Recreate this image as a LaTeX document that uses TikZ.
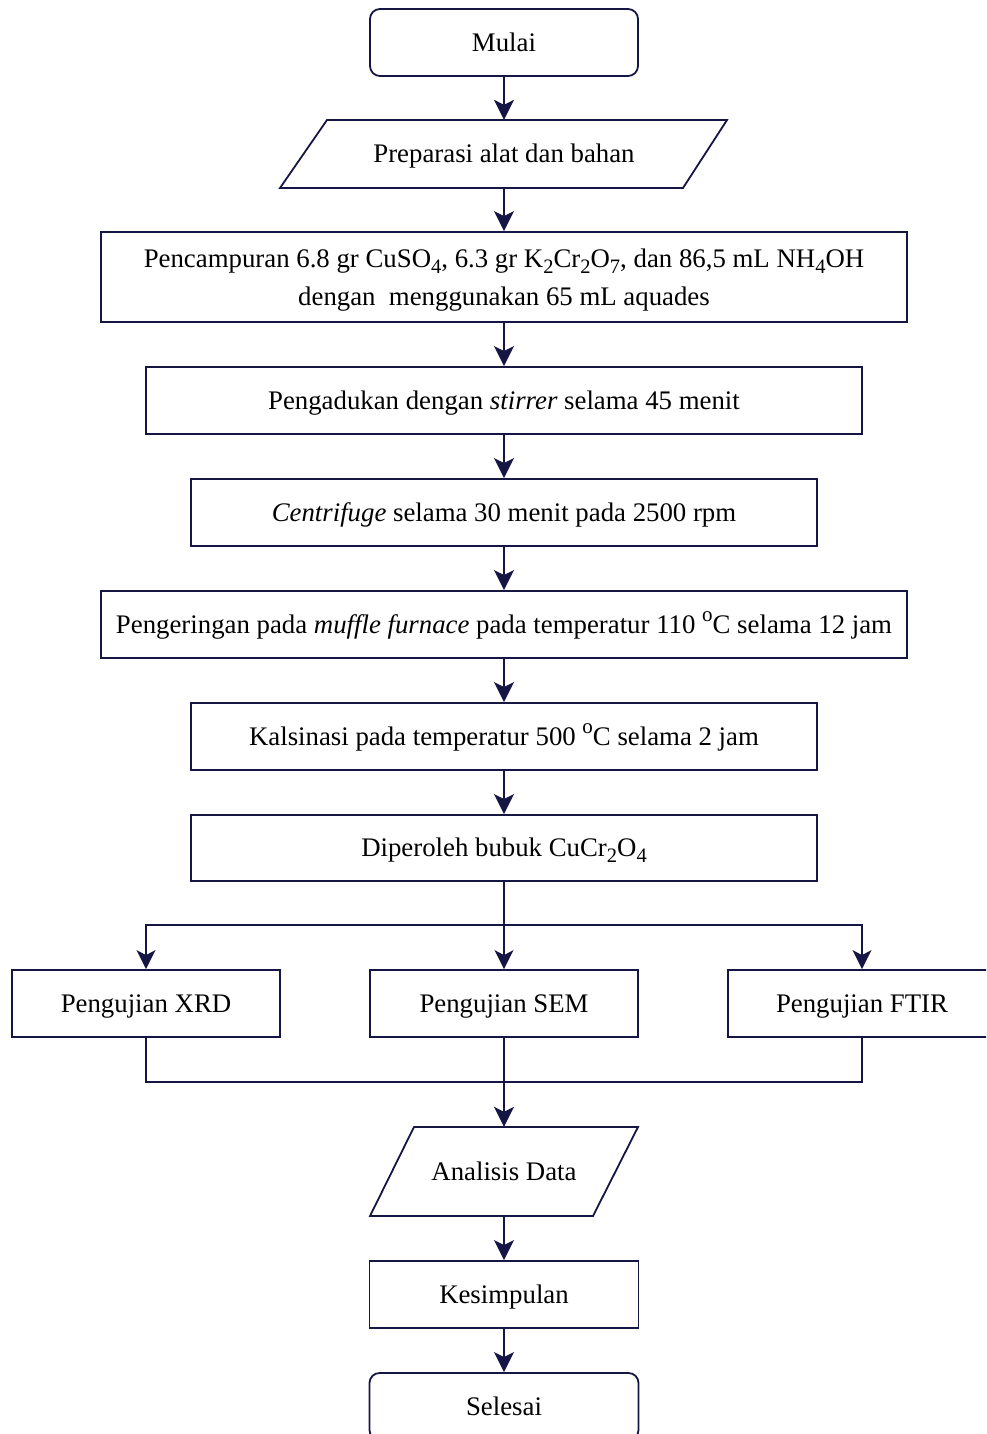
\documentclass[tikz,border=0pt]{standalone}
\usepackage{fontspec}
\setmainfont{Liberation Serif}
\usetikzlibrary{arrows.meta,calc}
\definecolor{navy}{RGB}{22,22,68}
\newcommand{\mysub}[1]{\raisebox{-0.22em}{\fontsize{20.5}{21}\selectfont #1}}
\newcommand{\mysup}[1]{\raisebox{0.45em}{\fontsize{21}{21}\selectfont #1}}
\tikzset{
  box/.style={draw=navy, line width=1.8pt, rectangle, minimum height=67pt, inner sep=0pt, align=center, text=black, text height=0.66em, text depth=0pt},
  mbox/.style={draw=navy, line width=1.8pt, rectangle, minimum height=67pt, inner sep=0pt, align=center, text=black},
  rbox/.style={box, rounded corners=10pt},
  pbox/.style={rectangle, inner sep=0pt, align=center, text=black, text height=0.66em, text depth=0pt},
  pshape/.style={draw=navy, line width=1.8pt, line join=miter},
  conn/.style={draw=navy, line width=1.8pt, -{Stealth[length=20pt,width=20pt,inset=5pt]}},
  plain/.style={draw=navy, line width=1.6pt},
  branch/.style={draw=navy, line width=1.6pt, -{Stealth[length=19pt,width=19pt,inset=5pt]}}
}
\begin{document}
\begin{tikzpicture}[x=1pt,y=-1pt]
\useasboundingbox (0,0) rectangle (986,1434);
\clip (0,0) rectangle (986,1434);
\fontsize{26.8}{38}\selectfont
\node[rbox, minimum width=268pt] (mulai) at (504,42.5) {Mulai};
\node[pbox, minimum width=400pt, minimum height=68pt] (prep) at (504,154) {Preparasi alat dan bahan};
\draw[pshape] (327,120) -- (727,120) -- (683,188) -- (280,188) -- cycle;
\node[mbox, minimum width=806pt, minimum height=90pt] (campur) at (504,277) {\rule{0pt}{24.5pt}Pencampuran 6.8 gr CuSO\mysub{4}, 6.3 gr K\mysub{2}Cr\mysub{2}O\mysub{7}, dan 86,5 mL NH\mysub{4}OH\\dengan\ \ menggunakan 65 mL aquades};
\node[box, minimum width=716pt] (aduk) at (504,400.5) {Pengadukan dengan \textit{stirrer} selama 45 menit};
\node[box, minimum width=626pt] (centri) at (504,512.5) {\textit{Centrifuge} selama 30 menit pada 2500 rpm};
\node[box, minimum width=806pt] (kering) at (504,624.5) {Pengeringan pada \textit{muffle furnace} pada temperatur 110 \mysup{o}C selama 12 jam};
\node[box, minimum width=626pt] (kalsin) at (504,736.5) {Kalsinasi pada temperatur 500 \mysup{o}C selama 2 jam};
\node[box, minimum width=626pt, minimum height=66pt] (dip) at (504,848) {Diperoleh bubuk CuCr\mysub{2}O\mysub{4}};
\node[box, minimum width=268pt] (xrd) at (146,1003.5) {Pengujian XRD};
\node[box, minimum width=268pt] (sem) at (504,1003.5) {Pengujian SEM};
\node[box, minimum width=268pt] (ftir) at (862,1003.5) {Pengujian FTIR};
\node[pbox, minimum width=224pt, minimum height=89pt] (ana) at (504,1171.5) {Analisis Data};
\draw[pshape] (414,1127) -- (638,1127) -- (593,1216) -- (370,1216) -- cycle;
\node[box, minimum width=269pt] (kes) at (504,1294.5) {Kesimpulan};
\node[rbox, minimum width=269pt] (sel) at (504,1406.5) {Selesai};
\coordinate (split) at (504,925);
\coordinate (merge) at (504,1082);
\draw[conn] (mulai) -- (prep);
\draw[conn] (prep) -- (campur);
\draw[conn] (campur) -- (aduk);
\draw[conn] (aduk) -- (centri);
\draw[conn] (centri) -- (kering);
\draw[conn] (kering) -- (kalsin);
\draw[conn] (kalsin) -- (dip);
\draw[plain] (dip.south) -- (split);
\draw[branch] (split) -| (xrd.north);
\draw[branch] (split) -- (sem.north);
\draw[branch] (split) -| (ftir.north);
\draw[plain] (xrd.south) |- (merge);
\draw[plain] (ftir.south) |- (merge);
\draw[plain] (sem.south) -- (merge);
\draw[conn] (merge) -- (ana.north);
\draw[conn] (ana) -- (kes);
\draw[conn] (kes) -- (sel);
\end{tikzpicture}
\end{document}
